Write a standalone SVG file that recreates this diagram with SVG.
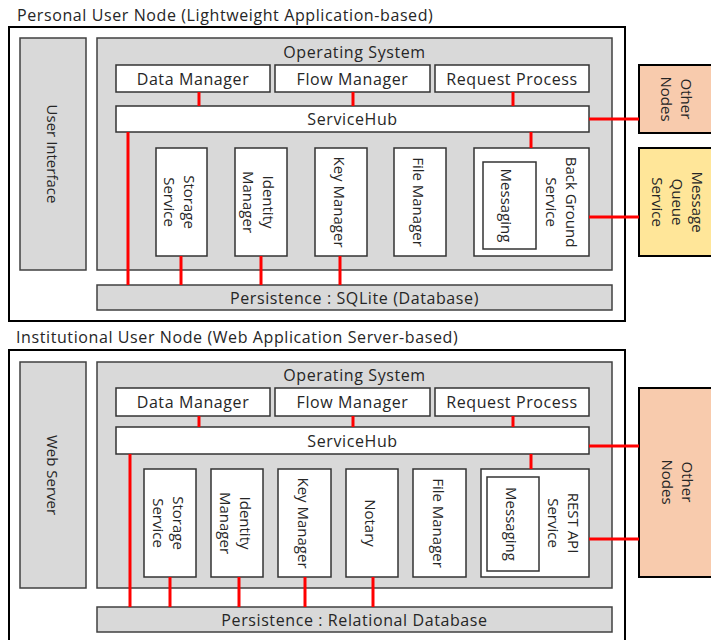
<svg xmlns="http://www.w3.org/2000/svg" width="711" height="640" viewBox="0 0 711 640">
<style>
text{font-family:"Open Sans","Noto Sans","Liberation Sans",sans-serif;font-size:16px;letter-spacing:0.6px;fill:#262626;dominant-baseline:central;text-anchor:middle}
text.v{font-size:15px;letter-spacing:0}
.t{text-anchor:start}
.outer{fill:#fff;stroke:#000;stroke-width:2}
.g{fill:#d9d9d9;stroke:#404040;stroke-width:1.5}
.w{fill:#fff;stroke:#333;stroke-width:1.5}
.on{fill:#f8cbad;stroke:#000;stroke-width:2}
.mq{fill:#ffe699;stroke:#000;stroke-width:2}
#connectors line{stroke:#ff0000;stroke-width:3}
</style>
<rect width="711" height="640" fill="#fff"/>
<!-- top section -->
<g id="personal-node">
<text class="t" x="17" y="15">Personal User Node (Lightweight Application-based)</text>
<rect class="outer" x="9" y="27" width="616" height="294"/>
</g>
<g id="ui1"><rect class="g" x="20" y="38" width="66" height="232"/><text class="v" transform="translate(53,154) rotate(90)">User Interface</text></g>
<g id="os1"><rect class="g" x="97" y="38" width="515" height="232"/><text x="354.5" y="52">Operating System</text></g>
<g id="dm1"><rect class="w" x="116" y="65" width="154" height="27"/><text x="193" y="78.5">Data Manager</text></g>
<g id="fm1"><rect class="w" x="275" y="65" width="155" height="27"/><text x="352.5" y="78.5">Flow Manager</text></g>
<g id="rp1"><rect class="w" x="435" y="65" width="154" height="27"/><text x="512" y="78.5">Request Process</text></g>
<g id="sh1"><rect class="w" x="116" y="106" width="473" height="26"/><text x="352.5" y="119">ServiceHub</text></g>
<g id="ss1"><rect class="w" x="156" y="148" width="51" height="108"/><text class="v" transform="translate(180,202) rotate(90)"><tspan x="0" y="-10">Storage</tspan><tspan x="0" y="10">Service</tspan></text></g>
<g id="im1"><rect class="w" x="235" y="148" width="52" height="108"/><text class="v" transform="translate(259,202) rotate(90)"><tspan x="0" y="-10">Identity</tspan><tspan x="0" y="10">Manager</tspan></text></g>
<g id="km1"><rect class="w" x="315" y="148" width="52" height="108"/><text class="v" transform="translate(340,202) rotate(90)">Key Manager</text></g>
<g id="fl1"><rect class="w" x="394" y="148" width="52" height="108"/><text class="v" transform="translate(419,202) rotate(90)">File Manager</text></g>
<g id="bg1"><rect class="w" x="474" y="148" width="115" height="108"/><text class="v" transform="translate(562,202) rotate(90)"><tspan x="0" y="-10">Back Ground</tspan><tspan x="0" y="10">Service</tspan></text></g>
<g id="msg1"><rect class="w" x="483" y="162" width="53" height="87"/><text class="v" transform="translate(507,205.5) rotate(90)">Messaging</text></g>
<g id="ps1"><rect class="g" x="97" y="285" width="515" height="25"/><text x="354.5" y="297.5">Persistence : SQLite (Database)</text></g>
<g id="on1"><rect class="on" x="639" y="65" width="76" height="68"/><text class="v" transform="translate(677,99) rotate(90)"><tspan x="0" y="-10">Other</tspan><tspan x="0" y="10">Nodes</tspan></text></g>
<g id="mq1"><rect class="mq" x="639" y="148" width="76" height="108"/><text class="v" transform="translate(678,202) rotate(90)"><tspan x="0" y="-20">Message</tspan><tspan x="0" y="0">Queue</tspan><tspan x="0" y="20">Service</tspan></text></g>
<!-- bottom section -->
<g id="institutional-node">
<text class="t" x="16" y="337">Institutional User Node (Web Application Server-based)</text>
<rect class="outer" x="9" y="350" width="616" height="300"/>
</g>
<g id="ws2"><rect class="g" x="20" y="362" width="66" height="226"/><text class="v" transform="translate(53,475) rotate(90)">Web Server</text></g>
<g id="os2"><rect class="g" x="97" y="362" width="515" height="226"/><text x="354.5" y="375">Operating System</text></g>
<g id="dm2"><rect class="w" x="116" y="388" width="154" height="28"/><text x="193" y="402">Data Manager</text></g>
<g id="fm2"><rect class="w" x="275" y="388" width="155" height="28"/><text x="352.5" y="402">Flow Manager</text></g>
<g id="rp2"><rect class="w" x="435" y="388" width="154" height="28"/><text x="512" y="402">Request Process</text></g>
<g id="sh2"><rect class="w" x="116" y="427" width="473" height="27"/><text x="352.5" y="440.5">ServiceHub</text></g>
<g id="ss2"><rect class="w" x="144" y="469" width="52" height="108"/><text class="v" transform="translate(169,523) rotate(90)"><tspan x="0" y="-10">Storage</tspan><tspan x="0" y="10">Service</tspan></text></g>
<g id="im2"><rect class="w" x="211" y="469" width="52" height="108"/><text class="v" transform="translate(236,523) rotate(90)"><tspan x="0" y="-10">Identity</tspan><tspan x="0" y="10">Manager</tspan></text></g>
<g id="km2"><rect class="w" x="278" y="469" width="53" height="108"/><text class="v" transform="translate(304,523) rotate(90)">Key Manager</text></g>
<g id="no2"><rect class="w" x="346" y="469" width="52" height="108"/><text class="v" transform="translate(371,523) rotate(90)">Notary</text></g>
<g id="fl2"><rect class="w" x="413" y="469" width="53" height="108"/><text class="v" transform="translate(439,523) rotate(90)">File Manager</text></g>
<g id="ra2"><rect class="w" x="481" y="469" width="108" height="108"/><text class="v" transform="translate(564,523) rotate(90)"><tspan x="0" y="-10">REST API</tspan><tspan x="0" y="10">Service</tspan></text></g>
<g id="msg2"><rect class="w" x="487" y="477" width="52" height="94"/><text class="v" transform="translate(512,524) rotate(90)">Messaging</text></g>
<g id="ps2"><rect class="g" x="97" y="607" width="515" height="25"/><text x="354.5" y="619.5">Persistence : Relational Database</text></g>
<g id="on2"><rect class="on" x="639" y="388" width="76" height="189"/><text class="v" transform="translate(678,482) rotate(90)"><tspan x="0" y="-10">Other</tspan><tspan x="0" y="10">Nodes</tspan></text></g>
<g id="connectors">
<line x1="199" y1="92" x2="199" y2="106"/>
<line x1="353" y1="92" x2="353" y2="106"/>
<line x1="513" y1="92" x2="513" y2="106"/>
<line x1="589" y1="119" x2="639" y2="119"/>
<line x1="531" y1="132" x2="531" y2="148"/>
<line x1="128" y1="132" x2="128" y2="285"/>
<line x1="181" y1="256" x2="181" y2="285"/>
<line x1="261" y1="256" x2="261" y2="285"/>
<line x1="340" y1="256" x2="340" y2="285"/>
<line x1="589" y1="217" x2="639" y2="217"/>
<line x1="199" y1="416" x2="199" y2="427"/>
<line x1="353" y1="416" x2="353" y2="427"/>
<line x1="513" y1="416" x2="513" y2="427"/>
<line x1="589" y1="446" x2="639" y2="446"/>
<line x1="531" y1="454" x2="531" y2="469"/>
<line x1="130" y1="454" x2="130" y2="607"/>
<line x1="170" y1="577" x2="170" y2="607"/>
<line x1="239" y1="577" x2="239" y2="607"/>
<line x1="305" y1="577" x2="305" y2="607"/>
<line x1="373" y1="577" x2="373" y2="607"/>
<line x1="589" y1="539" x2="639" y2="539"/>
</g>
</svg>
